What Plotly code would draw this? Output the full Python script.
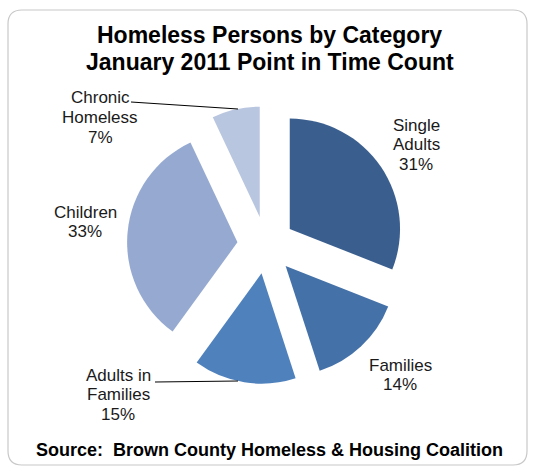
import plotly.graph_objects as go

categories = ["Single Adults", "Families", "Adults in Families", "Children", "Chronic Homeless"]
label_lines = [["Single", "Adults"], ["Families"], ["Adults in", "Families"], ["Children"], ["Chronic", "Homeless"]]
values = [31, 14, 15, 33, 7]
colors = ["#3A5F8F", "#4471A8", "#4F81BD", "#95A9D1", "#B9C6E0"]

W, H = 535, 470
FONT = "Liberation Sans, Arial, sans-serif"

def px(x):
    return x / W

def py(y):
    return 1 - y / H

fig = go.Figure(go.Pie(
    labels=categories,
    values=values,
    sort=False,
    direction="clockwise",
    rotation=0,
    pull=[0.26] * len(values),
    marker=dict(colors=colors, line=dict(width=0)),
    textinfo="none",
    hoverinfo="label+percent",
    domain=dict(x=[px(127), px(405)], y=[py(384), py(106)]),
    showlegend=False,
))

total = sum(values)
# (center x, first line y) in pixels
label_pos = [(416, 125), (400, 365), (118, 375), (85, 212), (100, 98)]
LINE = 19.8
annotations = []
for lines, v, (lx, ly) in zip(label_lines, values, label_pos):
    pct = round(100 * v / total)
    for i, t in enumerate(lines + [f"{pct}%"]):
        annotations.append(dict(
            x=px(lx), y=py(ly + i * LINE), xref="paper", yref="paper", text=t,
            showarrow=False, xanchor="center", yanchor="middle", align="center",
            font=dict(family=FONT, size=17, color="#1a1a1a"),
        ))

for i, t in enumerate(["Homeless Persons by Category", "January 2011 Point in Time Count"]):
    annotations.append(dict(
        x=px(270), y=py(35 + i * 27), xref="paper", yref="paper",
        text=f"<b>{t}</b>",
        showarrow=False, xanchor="center", yanchor="middle",
        font=dict(family=FONT, size=23, color="#000000"),
    ))
annotations.append(dict(
    x=px(270), y=py(450), xref="paper", yref="paper",
    text="<b>Source:  Brown County Homeless &amp; Housing Coalition</b>",
    showarrow=False, xanchor="center", yanchor="middle",
    font=dict(family=FONT, size=18, color="#000000"),
))

# rounded border
x0, y0, x1, y1, r = 8, 10, 527, 465, 14
path = (f"M {px(x0+r)},{py(y0)} L {px(x1-r)},{py(y0)} Q {px(x1)},{py(y0)} {px(x1)},{py(y0+r)} "
        f"L {px(x1)},{py(y1-r)} Q {px(x1)},{py(y1)} {px(x1-r)},{py(y1)} "
        f"L {px(x0+r)},{py(y1)} Q {px(x0)},{py(y1)} {px(x0)},{py(y1-r)} "
        f"L {px(x0)},{py(y0+r)} Q {px(x0)},{py(y0)} {px(x0+r)},{py(y0)} Z")
shapes = [
    dict(type="path", xref="paper", yref="paper", path=path,
         line=dict(color="#C8C8C8", width=1.2), fillcolor="rgba(0,0,0,0)"),
    dict(type="line", xref="paper", yref="paper", x0=px(131), y0=py(102), x1=px(238), y1=py(109),
         line=dict(color="#000000", width=1)),
    dict(type="line", xref="paper", yref="paper", x0=px(155), y0=py(382), x1=px(238), y1=py(381),
         line=dict(color="#000000", width=1)),
]

fig.update_layout(
    width=W, height=H,
    margin=dict(l=0, r=0, t=0, b=0),
    paper_bgcolor="white", plot_bgcolor="white",
    annotations=annotations, shapes=shapes,
)

fig.write_html("out.html", config={"displayModeBar": False},
               post_script="document.body.style.margin='0';document.body.style.overflow='hidden';")
